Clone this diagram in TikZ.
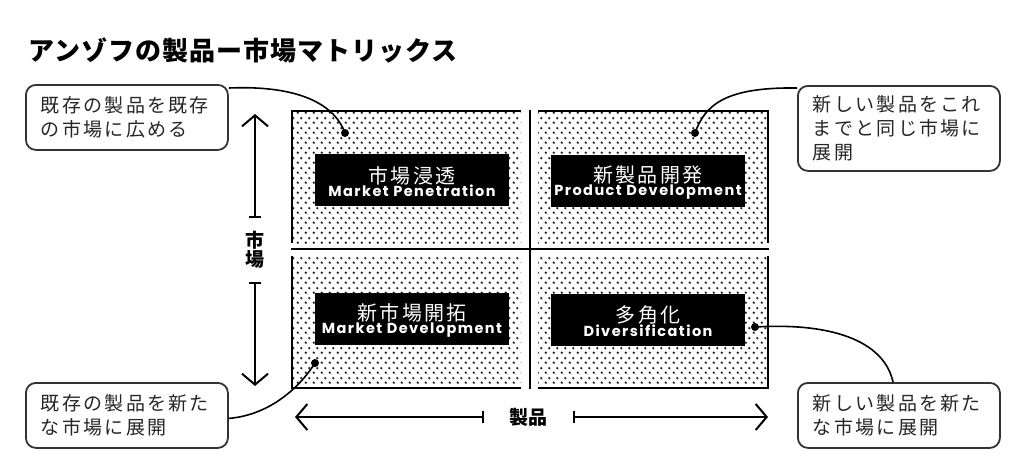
\documentclass[tikz,border=0pt]{standalone}
\usepackage{fontspec}
\setmainfont{Noto Sans CJK JP}
\newfontfamily\jptitle[LetterSpace=4]{Noto Sans CJK JP}
\newfontfamily\jpcall[LetterSpace=12]{Noto Sans CJK JP}
\newfontfamily\jpbox[LetterSpace=12]{Noto Sans CJK JP}
\newfontfamily\enbox[LetterSpace=10]{Poppins}
\usetikzlibrary{arrows.meta,patterns,calc}
\pgfdeclarepatternformonly{mydots}{\pgfqpoint{0pt}{0pt}}{\pgfqpoint{8pt}{10pt}}{\pgfqpoint{8pt}{10pt}}{%
  \pgfpathcircle{\pgfqpoint{2pt}{2.5pt}}{1.4pt}%
  \pgfpathcircle{\pgfqpoint{6pt}{7.5pt}}{1.4pt}%
  \pgfusepath{fill}}
\tikzset{
  barend/.tip={Bar[width=12pt]},
  barbend/.tip={Straight Barb[length=11pt,width=26pt]}
}
\begin{document}
\begin{tikzpicture}[x=1pt,y=-1pt,
  callout/.style={draw=black!80, line width=1.8pt, rounded corners=10pt, fill=white,
    text=black!85, align=left, text width=172pt, inner xsep=15pt, inner ysep=0pt,
    minimum height=65pt, anchor=north west, font=\jpcall\fontsize{19}{24}\selectfont},
  lbl/.style={fill=black, text=white, align=center, minimum width=194pt,
    minimum height=52pt, inner sep=0pt},
  quad/.style={pattern=mydots, pattern color=black!85},
  bord/.style={line width=2.5pt},
  crossline/.style={line width=2pt},
  conn/.style={line width=1.6pt},
  axisline/.style={line width=2pt},
  axislabel/.style={font=\bfseries\fontsize{19}{19}\selectfont, inner sep=0pt, align=center}
]
\useasboundingbox (0,0) rectangle (1024,464);

% title
\node[anchor=west, font=\jptitle\bfseries\fontsize{26}{28}\selectfont, inner sep=0pt] (title) at (28,50) {アンゾフの製品ー市場マトリックス};

% quadrants
\fill[quad] (292,111) rectangle (521,243);
\fill[quad] (538,111) rectangle (768,243);
\fill[quad] (292,256) rectangle (521,388);
\fill[quad] (538,256) rectangle (768,388);
\draw[bord] (521,111) -- (292,111) -- (292,243);
\draw[bord] (538,111) -- (768,111) -- (768,243);
\draw[bord] (292,256) -- (292,388) -- (521,388);
\draw[bord] (768,256) -- (768,388) -- (538,388);
\draw[crossline] (530,110) -- (530,389);
\draw[crossline] (291,249) -- (769,249);

% label boxes
\node[lbl] (mp) at (412,180) {\rule{0pt}{20pt}{\jpbox\fontsize{20}{22}\selectfont 市場浸透}\\[-1pt]{\enbox\bfseries\fontsize{14.5}{16}\selectfont Market Penetration}};
\node[lbl] (pd) at (648,181) {\rule{0pt}{20pt}{\jpbox\fontsize{20}{22}\selectfont 新製品開発}\\[-1pt]{\enbox\bfseries\fontsize{14.5}{16}\selectfont Product Development}};
\node[lbl] (md) at (412,319) {\rule{0pt}{20pt}{\jpbox\fontsize{20}{22}\selectfont 新市場開拓}\\[-1pt]{\enbox\bfseries\fontsize{14.5}{16}\selectfont Market Development}};
\node[lbl] (dv) at (648,319.5) {\rule{0pt}{20pt}{\jpbox\fontsize{20}{22}\selectfont 多角化}\\[-1pt]{\enbox\bfseries\fontsize{14.5}{16}\selectfont Diversification}};

% callouts
\node[callout] (c1) at (25,84) {既存の製品を既存\\の市場に広める};
\node[callout, minimum height=85pt] (c2) at (797,85) {新しい製品をこれ\\までと同じ市場に\\展開};
\node[callout] (c3) at (25,382) {既存の製品を新た\\な市場に展開};
\node[callout] (c4) at (797,382) {新しい製品を新た\\な市場に展開};

% dot ends
\coordinate (d1) at (345,133);
\coordinate (d2) at (695,133);
\coordinate (d3) at (315,363);
\coordinate (d4) at (755,327);
\foreach \d in {d1,d2,d3,d4} \fill (\d) circle (4pt);

% connectors
\draw[conn] ($(c1.north east)+(0,4)$) .. controls (300,85) and (335,105) .. (d1);
\draw[conn] (d2) .. controls (705,105) and (725,87) .. ($(c2.north west)+(0,3)$);
\draw[conn] (d3) .. controls (300,387) and (270,415) .. ($(c3.east)+(0,3)$);
\draw[conn] (d4) .. controls (840,322) and (885,345) .. ($(c4.north west)+(96,0)$);

% axes
\node[axislabel] (mk) at (255,250) {市\\場};
\node[axislabel] (pr) at (528,417) {製品};
\coordinate (mtop) at (255,114);
\coordinate (mtb) at (255,218);
\coordinate (mbb) at (255,282);
\coordinate (mbot) at (255,386);
\coordinate (pl) at (295,417);
\coordinate (plb) at (484,417);
\coordinate (prb) at (573,417);
\coordinate (pr2) at (768,417);
\draw[axisline, barend-barbend] (mtb) -- (mtop);
\draw[axisline, barend-barbend] (mbb) -- (mbot);
\draw[axisline, barend-barbend] (plb) -- (pl);
\draw[axisline, barend-barbend] (prb) -- (pr2);
\end{tikzpicture}
\end{document}
